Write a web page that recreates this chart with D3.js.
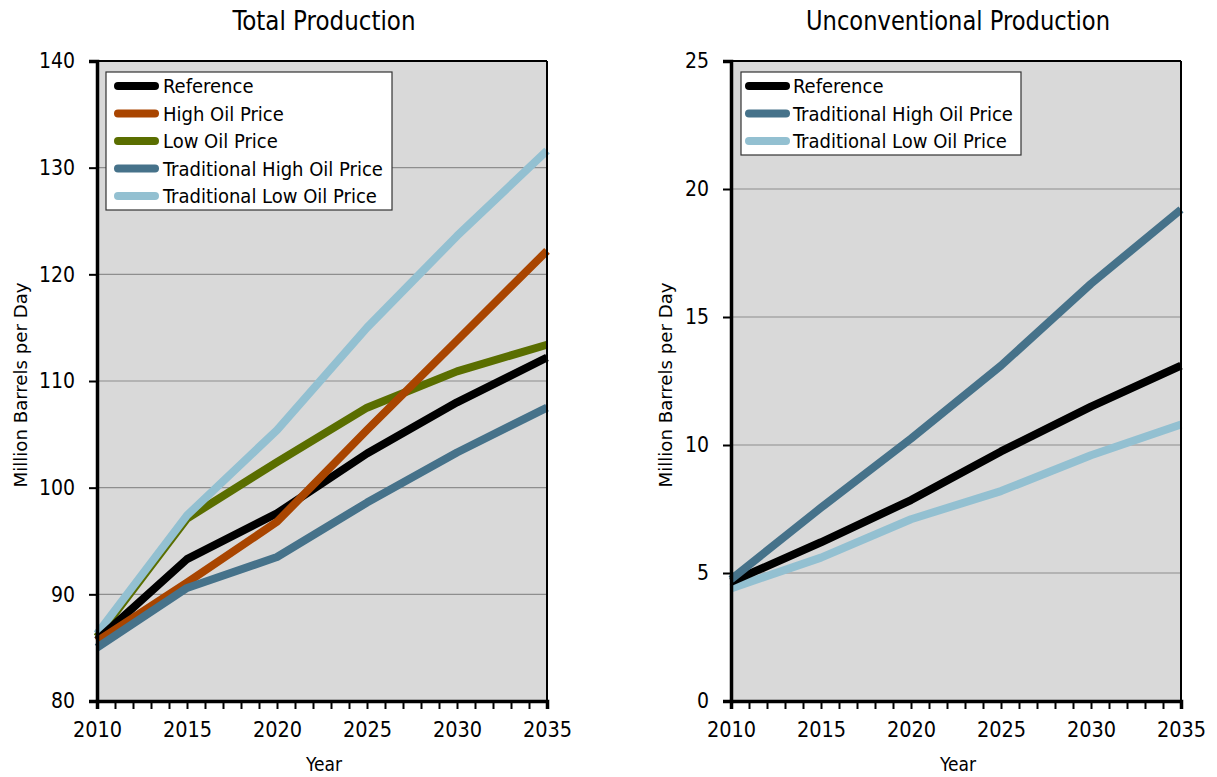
<!DOCTYPE html>
<html><head><meta charset="utf-8">
<script src="https://cdn.jsdelivr.net/npm/d3@7"></script>
<style>
body{margin:0;background:#fff;}
text{font-family:"DejaVu Sans Condensed","Liberation Sans Narrow",sans-serif;fill:#000;}
</style></head>
<body><svg id="c" width="1217" height="777"></svg>
<script>
const years = [2010, 2015, 2020, 2025, 2030, 2035];
const xTicks = [2010, 2015, 2020, 2025, 2030, 2035];

// Total Production (million barrels per day)
const totReference = [85.7, 93.3, 97.6, 103.2, 108.0, 112.2];
const totHigh      = [85.6, 91.1, 96.8, 105.4, 113.8, 122.2];
const totLow       = [86.0, 97.1, 102.4, 107.5, 110.9, 113.4];
const totTradHigh  = [85.0, 90.6, 93.5, 98.6, 103.3, 107.5];
const totTradLow   = [86.3, 97.4, 105.4, 115.0, 123.6, 131.6];
const totYTicks = [80, 90, 100, 110, 120, 130, 140];

// Unconventional Production
const uncReference = [4.65, 6.2, 7.85, 9.75, 11.5, 13.1];
const uncTradHigh  = [4.75, 7.55, 10.25, 13.1, 16.3, 19.2];
const uncTradLow   = [4.4, 5.6, 7.1, 8.2, 9.6, 10.8];
const uncYTicks = [0, 5, 10, 15, 20, 25];

const colors = {
  ref: "#000000", high: "#a94500", low: "#5a6e00", tHigh: "#46728a", tLow: "#93c0d1"
};

const svg = d3.select("#c");

function panel(opt) {
  const g = svg.append("g");
  const x = d3.scaleLinear().domain([2010, 2035]).range([opt.x0, opt.x1]);
  const y = d3.scaleLinear().domain(opt.yDomain).range([opt.y1, opt.y0]);
  g.append("rect").attr("x", opt.x0).attr("y", opt.y0)
    .attr("width", opt.x1 - opt.x0).attr("height", opt.y1 - opt.y0).attr("fill", "#d9d9d9");
  g.selectAll(".grid").data(opt.yTicks.slice(1, -1)).enter().append("line")
    .attr("x1", opt.x0).attr("x2", opt.x1).attr("y1", d => y(d)).attr("y2", d => y(d))
    .attr("stroke", "#8e8e8e").attr("stroke-width", 1.2);
  const line = d3.line().x((d, i) => x(years[i])).y(d => y(d));
  opt.series.forEach(s => {
    g.append("path").datum(s.values).attr("d", line).attr("fill", "none")
      .attr("stroke", s.color).attr("stroke-width", 8).attr("stroke-linejoin", "round");
  });
  g.append("line").attr("x1", opt.x0).attr("x2", opt.x1).attr("y1", opt.y0).attr("y2", opt.y0)
    .attr("stroke", "#000").attr("stroke-width", 2);
  g.append("line").attr("x1", opt.x1).attr("x2", opt.x1).attr("y1", opt.y0).attr("y2", opt.y1)
    .attr("stroke", "#000").attr("stroke-width", 2);
  const ya = g.append("g").attr("transform", `translate(${opt.x0},0)`)
    .call(d3.axisLeft(y).tickValues(opt.yTicks).tickSize(8).tickPadding(14).tickFormat(d3.format("d")));
  ya.select(".domain").attr("stroke-width", 3.5);
  ya.selectAll(".tick line").attr("stroke-width", 2);
  ya.selectAll("text").attr("font-size", 21);
  const xa = g.append("g").attr("transform", `translate(0,${opt.y1})`)
    .call(d3.axisBottom(x).ticks(25).tickSize(8).tickFormat(""));
  xa.select(".domain").attr("stroke-width", 3.5);
  xa.selectAll(".tick line").attr("stroke-width", 2);
  const xl = g.append("g").attr("transform", `translate(0,${opt.y1})`)
    .call(d3.axisBottom(x).tickValues(xTicks).tickSize(0).tickPadding(21).tickFormat(d3.format("d")));
  xl.select(".domain").remove();
  xl.selectAll("text").attr("font-size", 21.5);
  g.append("text").attr("x", (opt.x0 + opt.x1) / 2 + 2).attr("y", 30).attr("text-anchor", "middle")
    .attr("font-size", 27).attr("textLength", opt.titleLen).attr("lengthAdjust", "spacingAndGlyphs").text(opt.title);
  g.append("text").attr("x", (opt.x0 + opt.x1) / 2 + 2).attr("y", 771).attr("text-anchor", "middle")
    .attr("font-size", 19).text("Year");
  g.append("text").attr("transform", `translate(${opt.labelX},385) rotate(-90)`)
    .attr("text-anchor", "middle").attr("font-size", 18)
    .attr("textLength", 205).attr("lengthAdjust", "spacingAndGlyphs").text("Million Barrels per Day");
  const L = opt.legend;
  g.append("rect").attr("x", L.x).attr("y", L.y).attr("width", L.w).attr("height", L.h)
    .attr("fill", "#fff").attr("stroke", "#333").attr("stroke-width", 1.2);
  L.items.forEach((it, i) => {
    const cy = L.y + 14 + i * 27.5;
    g.append("line").attr("x1", L.x + L.sx).attr("x2", L.x + L.sx + 37).attr("y1", cy).attr("y2", cy)
      .attr("stroke", it.color).attr("stroke-width", 8).attr("stroke-linecap", "round");
    g.append("text").attr("x", L.x + L.tx).attr("y", cy + 7).attr("font-size", 20).text(it.name);
  });
}

panel({
  x0: 97, x1: 547, y0: 61, y1: 701, yDomain: [80, 140], yTicks: totYTicks,
  title: "Total Production", titleLen: 183, labelX: 27,
  series: [
    {values: totLow, color: colors.low},
    {values: totTradLow, color: colors.tLow},
    {values: totReference, color: colors.ref},
    {values: totHigh, color: colors.high},
    {values: totTradHigh, color: colors.tHigh}
  ],
  legend: {x: 106, y: 72, w: 286, h: 138, sx: 12, tx: 57, items: [
    {name: "Reference", color: colors.ref},
    {name: "High Oil Price", color: colors.high},
    {name: "Low Oil Price", color: colors.low},
    {name: "Traditional High Oil Price", color: colors.tHigh},
    {name: "Traditional Low Oil Price", color: colors.tLow}
  ]}
});

panel({
  x0: 731, x1: 1181, y0: 61, y1: 701, yDomain: [0, 25], yTicks: uncYTicks,
  title: "Unconventional Production", titleLen: 304, labelX: 672,
  series: [
    {values: uncTradLow, color: colors.tLow},
    {values: uncReference, color: colors.ref},
    {values: uncTradHigh, color: colors.tHigh}
  ],
  legend: {x: 741, y: 72, w: 280, h: 83, sx: 8, tx: 52, items: [
    {name: "Reference", color: colors.ref},
    {name: "Traditional High Oil Price", color: colors.tHigh},
    {name: "Traditional Low Oil Price", color: colors.tLow}
  ]}
});
</script></body></html>
